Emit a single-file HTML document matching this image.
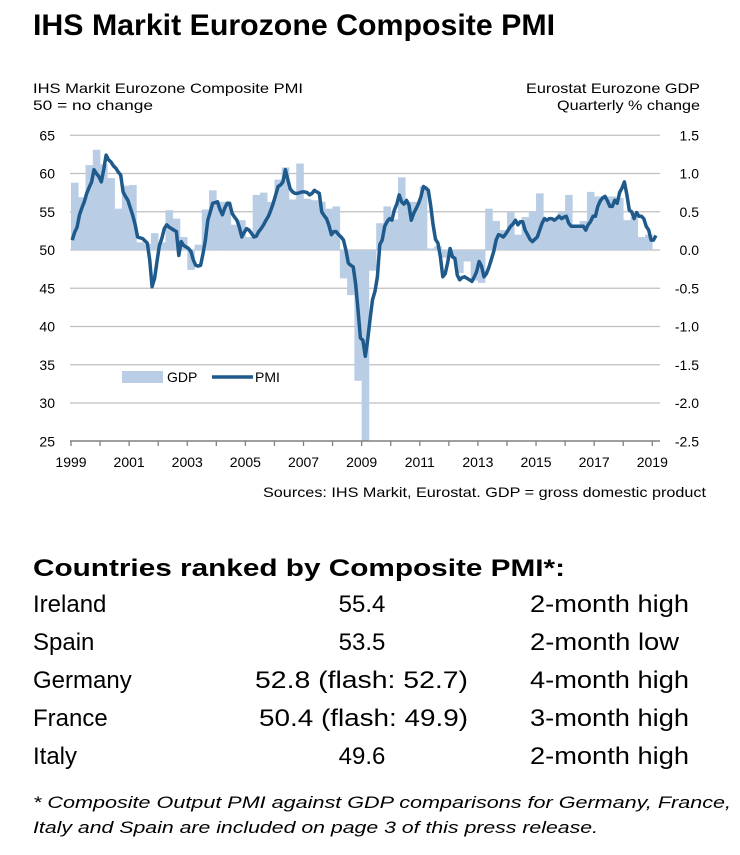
<!DOCTYPE html>
<html><head><meta charset="utf-8"><style>
html,body{margin:0;padding:0;background:#fff}
svg{display:block;font-family:"Liberation Sans",Arial,sans-serif}
</style></head><body>
<svg id="page" width="740" height="855" viewBox="0 0 740 855" xmlns="http://www.w3.org/2000/svg">
<text x="33" y="35" font-size="30" font-weight="bold" textLength="522" lengthAdjust="spacingAndGlyphs">IHS Markit Eurozone Composite PMI</text>
<text x="33" y="93" font-size="14" textLength="270" lengthAdjust="spacingAndGlyphs">IHS Markit Eurozone Composite  PMI</text>
<text x="33" y="110" font-size="14" textLength="120" lengthAdjust="spacingAndGlyphs">50 = no change</text>
<text x="700" y="93" font-size="14" text-anchor="end" textLength="174" lengthAdjust="spacingAndGlyphs">Eurostat Eurozone GDP</text>
<text x="700" y="110" font-size="14" text-anchor="end" textLength="143" lengthAdjust="spacingAndGlyphs">Quarterly  % change</text>
<g id="chart"></g>
<text x="706" y="497" font-size="14" text-anchor="end" textLength="443" lengthAdjust="spacingAndGlyphs">Sources: IHS Markit, Eurostat. GDP = gross domestic product</text>
<text x="33" y="576" font-size="24" font-weight="bold" textLength="532" lengthAdjust="spacingAndGlyphs">Countries ranked by Composite PMI*:</text>
<g font-size="24">
<text x="33" y="612">Ireland</text>
<text x="362" y="612" text-anchor="middle">55.4</text>
<text x="530" y="612" textLength="159" lengthAdjust="spacingAndGlyphs">2-month high</text>
<text x="33" y="650">Spain</text>
<text x="362" y="650" text-anchor="middle">53.5</text>
<text x="530" y="650" textLength="149" lengthAdjust="spacingAndGlyphs">2-month low</text>
<text x="33" y="688">Germany</text>
<text x="255" y="688" textLength="213" lengthAdjust="spacingAndGlyphs">52.8  (flash: 52.7)</text>
<text x="530" y="688" textLength="159" lengthAdjust="spacingAndGlyphs">4-month high</text>
<text x="33" y="726">France</text>
<text x="259" y="726" textLength="209" lengthAdjust="spacingAndGlyphs">50.4 (flash: 49.9)</text>
<text x="530" y="726" textLength="159" lengthAdjust="spacingAndGlyphs">3-month high</text>
<text x="33" y="764">Italy</text>
<text x="362" y="764" text-anchor="middle">49.6</text>
<text x="530" y="764" textLength="159" lengthAdjust="spacingAndGlyphs">2-month high</text>
</g>
<text x="33" y="808" font-size="17" font-style="italic" textLength="698" lengthAdjust="spacingAndGlyphs">* Composite Output PMI against GDP comparisons for Germany, France,</text>
<text x="33" y="833" font-size="17" font-style="italic" textLength="565" lengthAdjust="spacingAndGlyphs">Italy and Spain are included on page 3 of this press release.</text>
</svg>
<script>
const yearLabels = ["1999","2001","2003","2005","2007","2009","2011","2013","2015","2017","2019"];
const pmiTicks = [65,60,55,50,45,40,35,30,25];
const gdpTicks = ["1.5","1.0","0.5","0.0","-0.5","-1.0","-1.5","-2.0","-2.5"];
const gdp = [0.88,0.69,1.11,1.31, 1.12,0.94,0.54,0.84, 0.85,0.1,0.08,0.22, 0.1,0.52,0.41,0.17,
 -0.26,0.07,0.53,0.78, 0.63,0.63,0.33,0.39, 0.17,0.72,0.75,0.63, 0.92,1.08,0.66,1.13,
 0.67,0.65,0.63,0.54, 0.57,-0.37,-0.59,-1.71, -3.0,-0.27,0.35,0.57, 0.4,0.95,0.63,0.63,
 0.83,0.02,0.05,-0.1, -0.1,-0.3,-0.15,-0.4, -0.43,0.54,0.38,0.26, 0.5,0.2,0.43,0.51,
 0.74,0.39,0.41,0.5, 0.72,0.3,0.38,0.76, 0.7,0.7,0.7,0.68, 0.39,0.43,0.17,0.2];
const pmi = [
51.3,52.3,53.0,54.6,55.5,56.3,57.4,58.2,58.9,60.5,60.0,59.6,
58.9,60.5,62.4,61.8,61.5,61.0,60.7,60.2,59.8,57.6,57.0,56.5,
55.5,54.5,53.3,51.7,51.6,51.5,51.2,50.9,48.7,45.2,46.3,48.5,
50.6,51.5,52.8,53.3,53.0,52.8,52.6,52.4,49.3,51.1,50.6,50.4,
50.2,49.8,48.7,48.0,47.9,48.0,49.5,51.3,53.9,55.0,56.1,56.2,
56.3,55.3,54.6,55.5,56.1,56.1,54.8,54.3,53.9,53.0,51.7,52.3,
52.8,52.6,52.2,51.7,51.8,52.4,52.8,53.3,53.9,54.4,55.2,56.1,
57.2,58.3,58.5,58.9,60.5,59.2,58.0,57.6,57.4,57.4,57.5,57.6,
57.6,57.5,57.2,57.4,57.8,57.6,57.4,55.0,54.5,54.1,53.2,52.0,
52.4,52.4,52.0,51.7,51.3,50.0,48.3,48.0,47.8,45.6,42.2,38.5,
38.2,36.1,38.3,41.0,43.5,44.6,46.5,50.7,51.3,53.1,53.7,54.1,
53.9,55.2,56.0,57.2,56.3,56.0,56.5,55.9,53.9,54.8,55.4,56.1,
57.0,58.3,58.1,57.8,55.8,53.3,51.4,50.9,49.1,46.5,46.9,48.3,
50.2,49.1,48.9,46.7,46.1,46.4,46.5,46.3,46.1,45.9,46.5,47.2,
48.5,47.9,46.5,46.9,47.7,48.7,49.8,51.3,52.0,51.9,51.7,52.1,
52.6,53.1,53.4,53.9,53.3,53.7,53.7,52.6,52.0,51.4,51.1,51.4,
51.7,52.6,53.5,54.1,53.9,54.1,54.1,53.9,54.1,54.4,54.1,54.3,
54.4,53.5,53.1,53.1,53.1,53.1,53.1,53.1,52.6,53.3,53.7,54.4,
54.4,55.7,56.4,56.8,57.0,56.4,55.7,55.7,56.5,56.1,57.5,58.1,
58.9,57.2,55.2,55.0,54.1,54.9,54.4,54.4,54.1,53.1,52.6,51.3,
51.3,51.9];

const NS="http://www.w3.org/2000/svg";
const g=document.getElementById('chart');
const X0=71, YW=29.065, PL=70, PR=660, PT=135, PB=441;
const xYear=t=>X0+t*YW;
const yP=v=>250-(v-50)*7.65;
const yG=v=>250-v*76.5;
function el(tag,attrs,parent){const e=document.createElementNS(NS,tag);for(const k in attrs)e.setAttribute(k,attrs[k]);(parent||g).appendChild(e);return e;}

pmiTicks.forEach((v,i)=>{
  if(v>25){
    const l=el('line',{x1:PL,x2:PR,y1:yP(v),y2:yP(v),stroke:'#bfbfbf','stroke-width':1.3});
    
    
  }
  const t=el('text',{x:55,y:yP(v)+5,'font-size':14,'text-anchor':'end'});
  t.textContent=v;
  
  
  const r=el('text',{x:699,y:yP(v)+5,'font-size':14,'text-anchor':'end'});
  r.textContent=gdpTicks[i];
  
  
});

const qw=YW/4;
gdp.forEach((v,i)=>{
  const x=xYear(i/4);
  const y1=Math.max(PT,Math.min(yG(v),yG(0)));
  const y2=Math.min(PB,Math.max(yG(v),yG(0)));
  const b=el('rect',{x:x,y:y1,width:qw+0.3,height:Math.max(0,y2-y1),fill:'#b9cde5'});
  
  
});

const ax=el('line',{x1:PL,x2:PR,y1:PB,y2:PB,stroke:'#808080','stroke-width':1.5});


for(let yr=0;yr<=20;yr++){
  const tk=el('line',{x1:xYear(yr),x2:xYear(yr),y1:PB,y2:PB+5,stroke:'#808080','stroke-width':1.3});
  
  
}
yearLabels.forEach((s,i)=>{
  const t=el('text',{x:xYear(+s-1999),y:467,'font-size':14,'text-anchor':'middle'});
  t.textContent=s;
  
  
});

const pts=pmi.map((v,m)=>(xYear((m+0.5)/12)).toFixed(1)+','+yP(v).toFixed(1)).join(' ');
const pl=el('polyline',{points:pts,fill:'none',stroke:'#1f5a8c','stroke-width':3.5,'stroke-linejoin':'round'});



const lg=el('g',{});


const sw=el('rect',{x:122,y:371,width:41,height:12,fill:'#b9cde5'},lg);


const t1=el('text',{x:167,y:382,'font-size':14},lg);t1.textContent='GDP';


const ll=el('line',{x1:212,x2:253,y1:377,y2:377,stroke:'#1f5a8c','stroke-width':3.5},lg);


const t2=el('text',{x:255,y:382,'font-size':14},lg);t2.textContent='PMI';


</script>
</body></html>
